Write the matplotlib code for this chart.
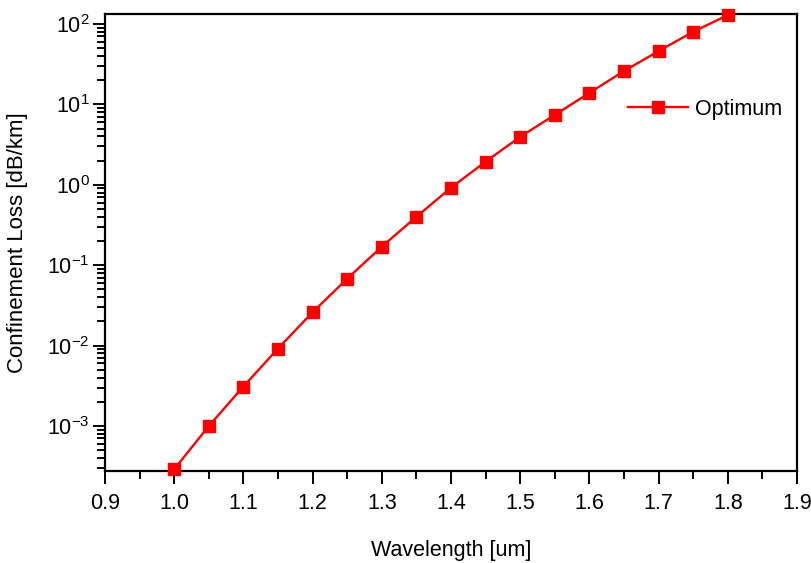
import matplotlib
matplotlib.use('Agg')
import matplotlib.pyplot as plt

# data
wavelength = [1.00, 1.05, 1.10, 1.15, 1.20, 1.25, 1.30, 1.35, 1.40,
              1.45, 1.50, 1.55, 1.60, 1.65, 1.70, 1.75, 1.80]
loss = [2.9e-4, 1.0e-3, 3.1e-3, 9.2e-3, 2.6e-2, 6.8e-2, 0.17, 0.40, 0.92,
        1.94, 3.95, 7.4, 13.9, 26.0, 46.0, 80.0, 129.0]
series_label = 'Optimum'

plt.rcParams['font.family'] = ['Liberation Sans', 'DejaVu Sans']
plt.rcParams['mathtext.fontset'] = 'custom'
plt.rcParams['mathtext.rm'] = 'Liberation Sans'
plt.rcParams['mathtext.it'] = 'Liberation Sans'

fig = plt.figure(figsize=(8.11, 5.63), dpi=100)
ax = fig.add_axes([105 / 811, 1 - 470.5 / 563, 692 / 811, 456.5 / 563])

ax.plot(wavelength, loss, color='#ff0000', lw=1.7, marker='s', markersize=9,
        label=series_label, clip_on=False, zorder=3)

ax.set_yscale('log')
ax.set_xlim(0.9, 1.9)
ax.set_ylim(2.8e-4, 133)
ax.set_xticks([0.9 + 0.1 * i for i in range(11)])
ax.set_xticks([0.95 + 0.1 * i for i in range(10)], minor=True)
ax.set_xticklabels(['%.1f' % (0.9 + 0.1 * i) for i in range(11)])

for s in ax.spines.values():
    s.set_linewidth(1.6)
ax.tick_params(which='both', direction='out', top=False, right=False,
               width=1.4, labelsize=15.5)
ax.tick_params(which='major', length=9)
ax.tick_params(which='minor', length=5.5)
ax.tick_params(axis='x', pad=7)
ax.tick_params(axis='y', pad=2)

ax.set_xlabel('Wavelength [um]', fontsize=15.5, labelpad=19)
ax.set_ylabel('Confinement Loss [dB/km]', fontsize=16, labelpad=14)

ax.legend(loc='upper left', bbox_to_anchor=(0.728, 0.857), frameon=False,
          fontsize=15.5, handlelength=2.8, handletextpad=0.3)

fig.savefig('out.png', dpi=100)
